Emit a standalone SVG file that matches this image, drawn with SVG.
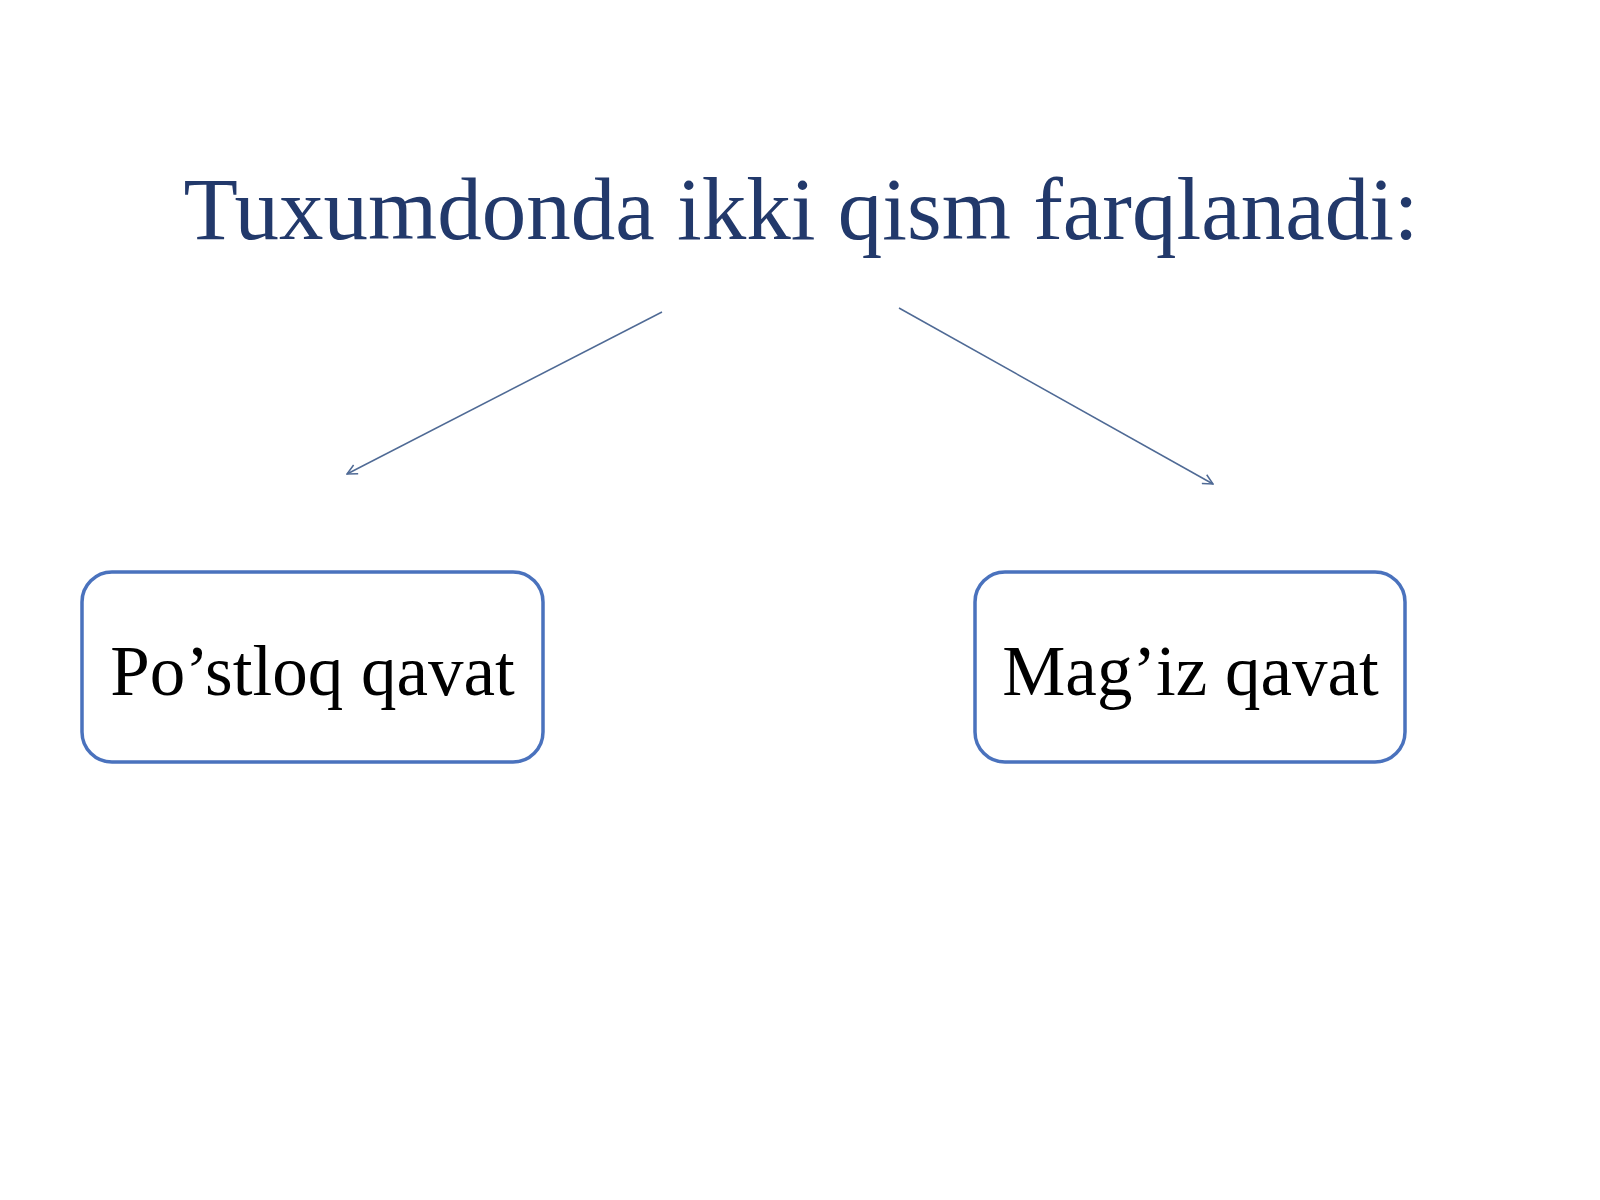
<svg xmlns="http://www.w3.org/2000/svg" width="1600" height="1200" viewBox="0 0 1600 1200">
<style>
.title{font-family:"Liberation Serif","Times New Roman",serif;font-size:89px;fill:#22396B;text-anchor:middle}
.box{fill:#FFFFFF;stroke:#4A72BD;stroke-width:3.5}
.label{font-family:"Liberation Serif","Times New Roman",serif;font-size:71px;fill:#000000;text-anchor:middle}
.conn{stroke:#4F6A95;stroke-width:1.5;fill:none}
</style>
<defs>
<marker id="arr" viewBox="0 0 12 12" refX="11" refY="6" markerWidth="12" markerHeight="12" markerUnits="userSpaceOnUse" orient="auto">
<path d="M1,1 L11,6 L1,11" fill="none" stroke="#4F6A95" stroke-width="1.5"/>
</marker>
</defs>
<rect width="1600" height="1200" fill="#FFFFFF"/>
<g id="title">
<text class="title" x="801" y="239">Tuxumdonda ikki qism farqlanadi:</text>
</g>
<g id="connectors">
<line class="conn" x1="662" y1="312" x2="347" y2="474" marker-end="url(#arr)"/>
<line class="conn" x1="899" y1="308" x2="1213" y2="484" marker-end="url(#arr)"/>
</g>
<g id="node-postloq">
<rect class="box" x="82" y="572" width="461" height="190" rx="30" ry="30"/>
<text class="label" x="312.5" y="695">Po’stloq qavat</text>
</g>
<g id="node-magiz">
<rect class="box" x="975" y="572" width="430" height="190" rx="30" ry="30"/>
<text class="label" x="1190.5" y="695">Mag’iz qavat</text>
</g>
</svg>
